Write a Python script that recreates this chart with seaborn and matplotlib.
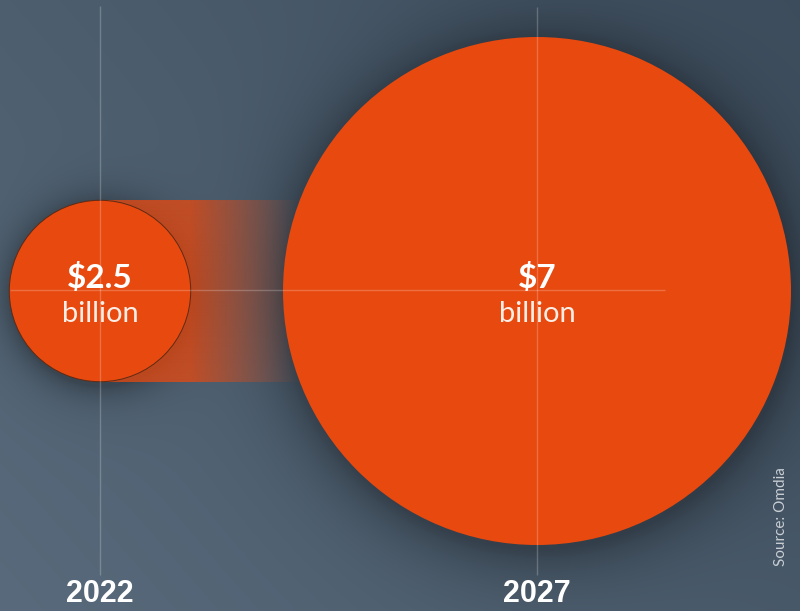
import numpy as np
import pandas as pd
import matplotlib
matplotlib.use("Agg")
import matplotlib.pyplot as plt
import seaborn as sns

# Market size, $ billion
years = ["2022", "2027"]
values = [2.5, 7.0]
value_labels = ["$2.5", "$7"]
unit_label = "billion"
source_note = "Source: Omdia"

W, H, DPI = 800, 611, 100
x_centers = [100, 537]
y_center = 291
px_per_billion = 254 / 7.0
orange = "#e8490f"

sns.set_theme(style="white")
plt.rcParams["font.family"] = ["Lato", "DejaVu Sans"]

fig = plt.figure(figsize=(W / DPI, H / DPI), dpi=DPI)
ax = fig.add_axes([0, 0, 1, 1])
ax.set_xlim(0, W)
ax.set_ylim(H, 0)
ax.axis("off")

radii = [v * px_per_billion for v in values]

# slate backdrop: lighter lower-left, darker upper-right, with soft shadows round the discs
yy, xx = np.mgrid[0:H, 0:W] + 0.5
light = np.array([0x58, 0x6a, 0x7b]) / 255
dark = np.array([0x3d, 0x4d, 0x5d]) / 255
t = np.clip(0.6 * xx / W + 0.4 * (1 - yy / H), 0, 1)[..., None]
bg = light * (1 - t) + dark * t
shade = np.zeros((H, W))
for cx, r, k in zip(x_centers, radii, [0.30, 0.32]):
    d = np.hypot(xx - (cx + 2), yy - (y_center + 4))
    w = 0.08 * r + 10
    shade += k * np.exp(-np.clip(d - r, 0, None) / w)
bg = bg * (1 - np.clip(shade, 0, 0.45))[..., None]
ax.imshow(bg, extent=(0, W, H, 0), zorder=0, interpolation="bilinear")

# fading band linking the two discs
r0 = radii[0]
band_x0, band_x1 = x_centers[0], 300
bw = band_x1 - band_x0
bx = np.arange(bw) + band_x0 + 0.5
alpha = np.clip(1 - (bx - (x_centers[0] + r0)) / (band_x1 - (x_centers[0] + r0)), 0, 1) * 0.75
band = np.zeros((2, bw, 4))
band[..., :3] = matplotlib.colors.to_rgb(orange)
band[..., 3] = alpha[None, :]
ax.imshow(band, extent=(band_x0, band_x1, y_center + r0, y_center - r0),
          zorder=1, interpolation="bilinear", aspect="auto")

# discs sized by value (radius proportional to value)
df = pd.DataFrame({"x": x_centers, "y": [y_center] * 2, "value": values})
sizes = {v: (2 * r * 72 / DPI) ** 2 for v, r in zip(values, radii)}
sns.scatterplot(data=df, x="x", y="y", size="value", sizes=sizes, color=orange,
                edgecolor=["#5e2a14", orange], linewidth=[0.7, 0.0],
                legend=False, ax=ax, zorder=3)
ax.set_xlim(0, W)
ax.set_ylim(H, 0)
ax.axis("off")

# guide lines
guide = dict(color="white", alpha=0.22, lw=1, zorder=4, solid_capstyle="butt")
ax.plot([10, 665], [y_center - 1, y_center - 1], **guide)
ax.plot([x_centers[0]] * 2, [6, 575], **guide)
ax.plot([x_centers[1]] * 2, [7, 575], **guide)

# labels
for cx, lab, yr in zip(x_centers, value_labels, years):
    ax.text(cx, 278, lab, ha="center", va="center", color="white",
            fontsize=24, fontweight="bold", zorder=5)
    ax.text(cx, 314, unit_label, ha="center", va="center", color="#fbeee6",
            fontsize=21, zorder=5)
    ax.text(cx, 594, yr, ha="center", va="center", color="white",
            fontsize=22, fontweight="bold", zorder=5,
            family=["Liberation Sans Narrow", "Liberation Sans", "DejaVu Sans"])

ax.text(781, 517, source_note, rotation=90, ha="center", va="center",
        color="#c9ced4", fontsize=11, zorder=5)

fig.savefig("out.png", dpi=DPI)
